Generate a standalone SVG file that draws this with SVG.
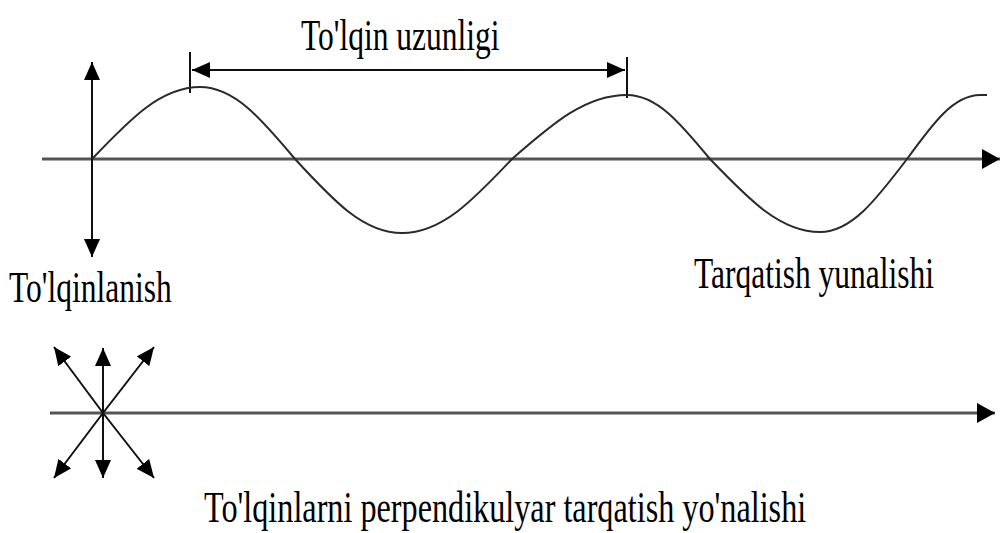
<svg xmlns="http://www.w3.org/2000/svg" width="1001" height="533" viewBox="0 0 1001 533">
<style>
.t{font-family:"Liberation Serif","Times New Roman",serif;font-size:31.5px;fill:#000}
.axis{stroke:#555;stroke-width:3;fill:none}
.arr{stroke:#111;stroke-width:2;fill:none}
.wave{stroke:#2a2a2a;stroke-width:2;fill:none}
</style>
<defs>
<marker id="ah" markerUnits="userSpaceOnUse" markerWidth="19" markerHeight="16" refX="18" refY="8" orient="auto-start-reverse">
<path d="M0,0 L18,8 L0,16 z" fill="#000"/>
</marker>
<marker id="ahb" markerUnits="userSpaceOnUse" markerWidth="20" markerHeight="20" refX="18" refY="10" orient="auto">
<path d="M0,0 L18,10 L0,20 z" fill="#000"/>
</marker>
</defs>
<g id="connectors">
<line class="axis" x1="42" y1="159" x2="1000" y2="159" marker-end="url(#ahb)"/>
<line class="arr" x1="92" y1="62" x2="92" y2="257" marker-start="url(#ah)" marker-end="url(#ah)"/>
<line class="arr" x1="190" y1="52" x2="190" y2="93"/>
<line class="arr" x1="627" y1="57" x2="627" y2="98"/>
<line class="arr" x1="192" y1="70" x2="625" y2="70" marker-start="url(#ah)" marker-end="url(#ah)"/>
<line class="axis" x1="50" y1="413" x2="995" y2="413" marker-end="url(#ahb)"/>
<line class="arr" x1="103" y1="413" x2="103" y2="348" marker-end="url(#ah)"/>
<line class="arr" x1="103" y1="413" x2="103" y2="478" marker-end="url(#ah)"/>
<line class="arr" x1="103" y1="413" x2="54" y2="347" marker-end="url(#ah)"/>
<line class="arr" x1="103" y1="413" x2="154" y2="347" marker-end="url(#ah)"/>
<line class="arr" x1="103" y1="413" x2="54" y2="478" marker-end="url(#ah)"/>
<line class="arr" x1="103" y1="413" x2="154" y2="478" marker-end="url(#ah)"/>
</g>
<g id="wave">
<path class="wave" d="M92,159 C130.9,118.2 161.1,87 200,87 C234.2,87 260.8,118.2 295,159 C333.5,200.9 363.5,233 402,233 C441.6,233 472.4,200.9 512,159 C553.4,122.8 585.6,95 627,95 C656.9,95 680.1,122.8 710,159 C749.6,200.3 780.4,232 820,232 C851.3,232 875.7,200.3 907,159 C933.3,122.8 953.7,95 980,95 L987,95"/>
</g>
<g id="label-wavelength"><text class="t" transform="translate(301,50) scale(1,1.44)">To'lqin uzunligi</text></g>
<g id="label-oscillation"><text class="t" transform="translate(9,302) scale(1,1.44)">To'lqinlanish</text></g>
<g id="label-direction"><text class="t" transform="translate(694,288) scale(1,1.44)">Tarqatish yunalishi</text></g>
<g id="label-perpendicular"><text class="t" style="font-size:32.2px" transform="translate(204,522) scale(1,1.35)">To'lqinlarni perpendikulyar tarqatish yo'nalishi</text></g>
</svg>
